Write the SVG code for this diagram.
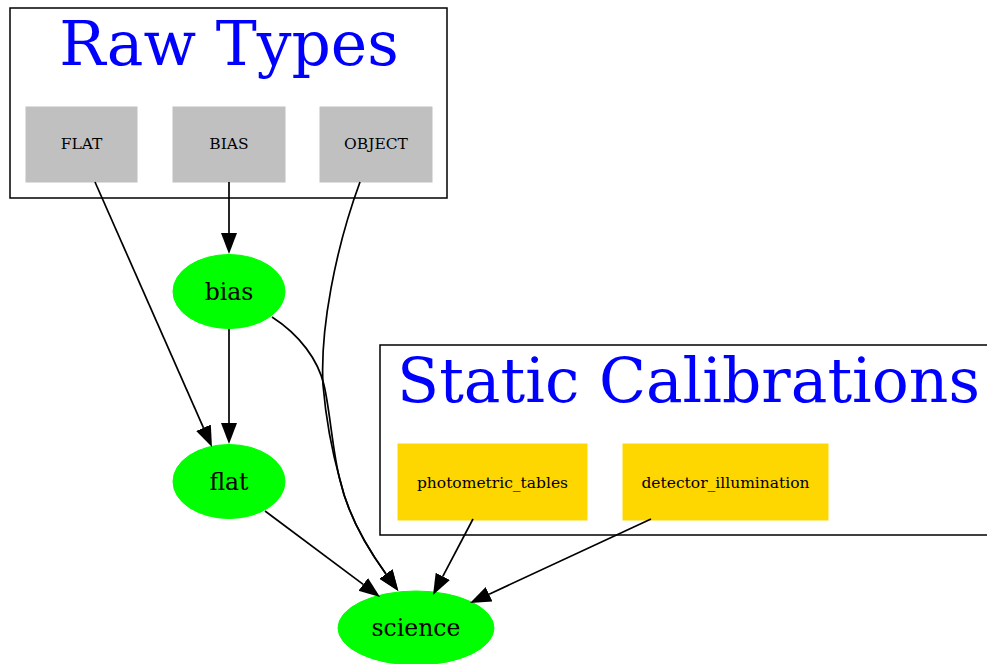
<svg xmlns="http://www.w3.org/2000/svg" width="987" height="664" viewBox="0 0 987 664">
<style>
.cluster{fill:#fff;stroke:#000;stroke-width:1.5}
.title{font-family:"DejaVu Serif",serif;font-size:61.5px;fill:#0000ff;text-anchor:middle}
.raw{fill:#c0c0c0;stroke:#c0c0c0}
.cal{fill:#ffd700;stroke:#ffd700}
.proc{fill:#00ff00;stroke:#00ff00}
.small{font-family:"DejaVu Serif",serif;font-size:15.5px;fill:#000;text-anchor:middle}
.big{font-family:"DejaVu Serif",serif;font-size:23.5px;fill:#000;text-anchor:middle}
.edge{fill:none;stroke:#000;stroke-width:1.7}
</style>
<defs>
<marker id="arr" markerUnits="userSpaceOnUse" markerWidth="22" markerHeight="18" refX="0" refY="8" orient="auto" viewBox="0 0 22 16">
<path d="M0,0 L21,8 L0,16 z" fill="#000"/>
</marker>
</defs>
<rect width="987" height="664" fill="#fff"/>
<g id="cluster_raw">
<rect class="cluster" x="10" y="8" width="437" height="190"/>
<text class="title" x="229" y="65">Raw Types</text>
</g>
<g id="cluster_static">
<rect class="cluster" x="380" y="345" width="617" height="190"/>
<text class="title" x="688.5" y="402">Static Calibrations</text>
</g>
<g id="node_FLAT"><rect class="raw" x="26" y="107" width="111" height="75"/><text class="small" x="81.5" y="149">FLAT</text></g>
<g id="node_BIAS"><rect class="raw" x="173" y="107" width="112" height="75"/><text class="small" x="229" y="149">BIAS</text></g>
<g id="node_OBJECT"><rect class="raw" x="320" y="107" width="112" height="75"/><text class="small" x="376" y="149">OBJECT</text></g>
<g id="node_photometric_tables"><rect class="cal" x="398" y="444" width="189" height="76"/><text class="small" x="492.5" y="487.5">photometric_tables</text></g>
<g id="node_detector_illumination"><rect class="cal" x="623" y="444" width="205" height="76"/><text class="small" x="725.5" y="487.5">detector_illumination</text></g>
<g id="node_bias"><ellipse class="proc" cx="229" cy="291.5" rx="56" ry="37"/><text class="big" x="229" y="299.5">bias</text></g>
<g id="node_flat"><ellipse class="proc" cx="229" cy="481.5" rx="56" ry="37"/><text class="big" x="229" y="489.5">flat</text></g>
<g id="node_science"><ellipse class="proc" cx="416" cy="628" rx="78" ry="37"/><text class="big" x="416" y="636">science</text></g>
<g id="edges">
<path class="edge" marker-end="url(#arr)" d="M95,182 L203.5,427.8"/>
<path class="edge" marker-end="url(#arr)" d="M229,182 L229,233"/>
<path class="edge" marker-end="url(#arr)" d="M229,329 L229,423"/>
<path class="edge" marker-end="url(#arr)" d="M265,511 L363.2,584.4"/>
<path class="edge" marker-end="url(#arr)" d="M473,519 L442.8,576.4"/>
<path class="edge" marker-end="url(#arr)" d="M651,519 L489.1,594.2"/>
<path class="edge" marker-end="url(#arr)" d="M272,317 C300,335 318,360 324,385 C330,410 333,455 340,480 C348,515 365,545 386,574"/>
<path class="edge" marker-end="url(#arr)" d="M360,182 C335,250 320,330 323,385 C326,420 333,455 340,480 C348,515 365,545 386,574"/>
</g>
</svg>
